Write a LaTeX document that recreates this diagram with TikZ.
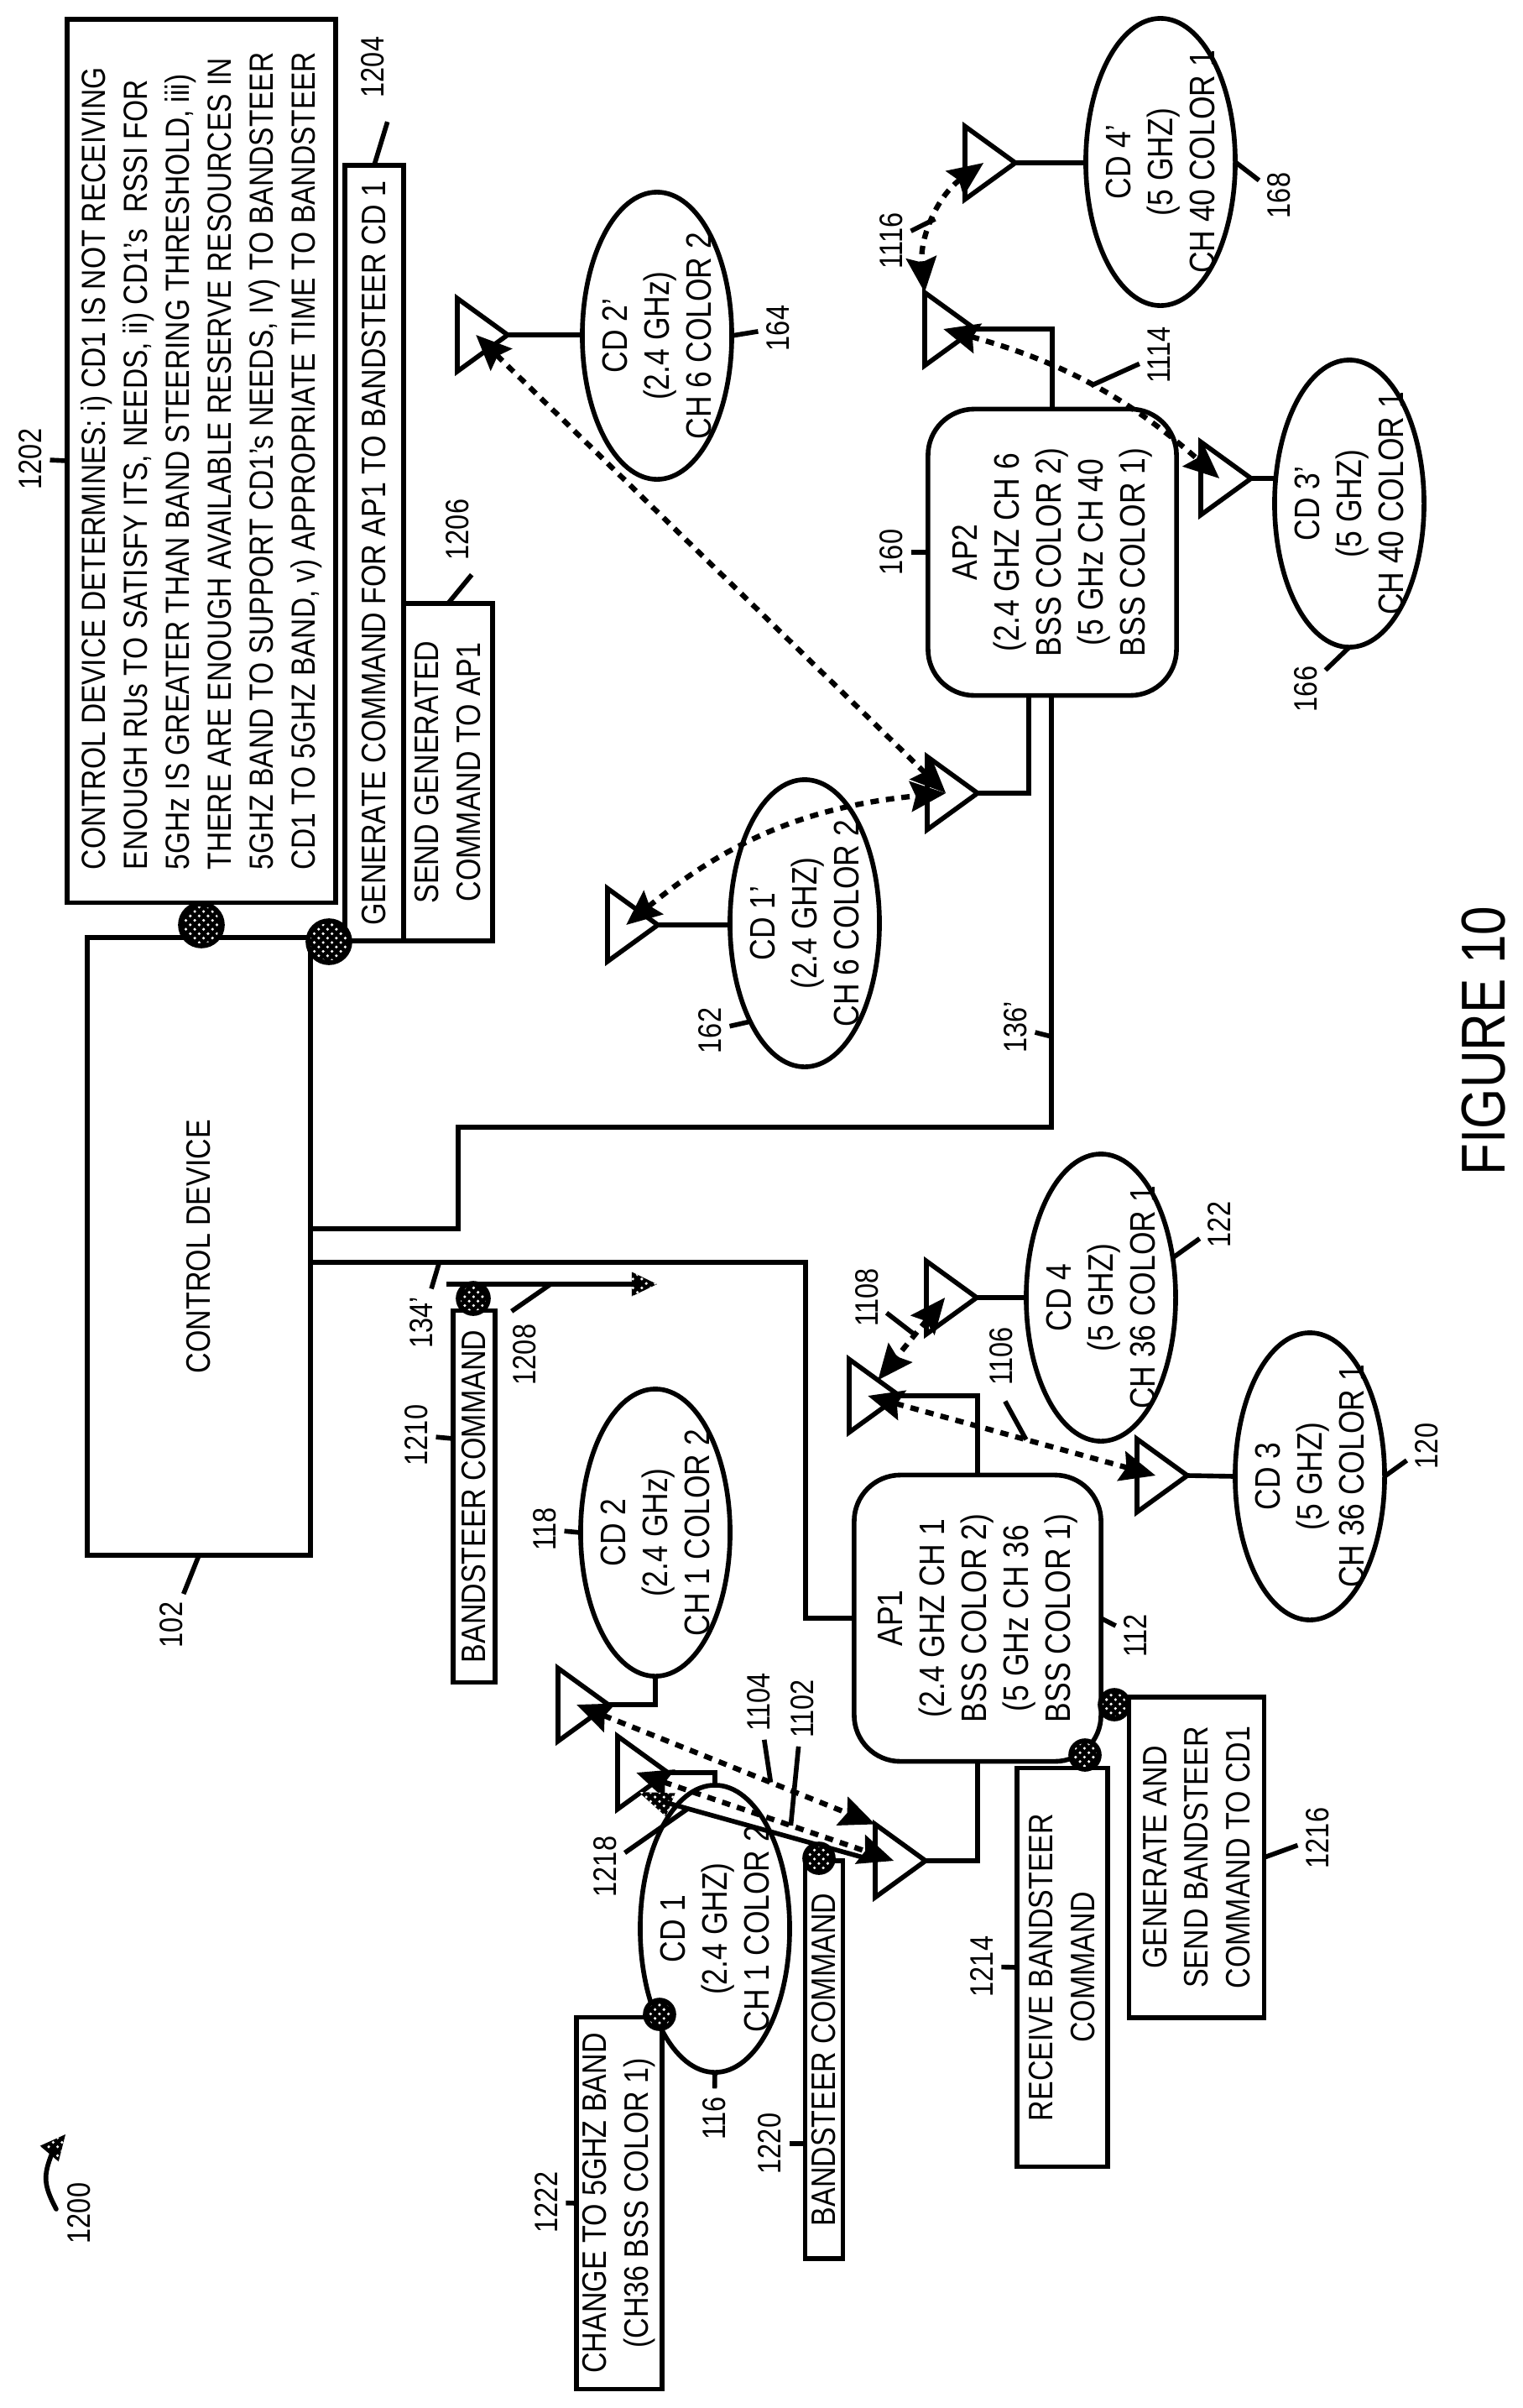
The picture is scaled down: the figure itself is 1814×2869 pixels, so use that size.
\documentclass[tikz,border=0pt]{standalone}
\usepackage{fontspec}
\setmainfont{Liberation Sans}[FakeStretch=0.84]
\usetikzlibrary{shapes.geometric,arrows.meta,patterns,calc}

\begin{document}
\begin{tikzpicture}[
    x=0.01cm, y=-0.01cm,
    line width=1.6pt,
    >={Stealth[length=0.42cm,width=0.36cm,inset=0.06cm]},
    every node/.style={font=\fontsize{11.5}{14.2}\selectfont},
    cmdbox/.style={draw, rotate=90, align=center, inner sep=0pt, outer sep=0pt},
    apbox/.style={cmdbox, rounded corners=0.55cm, font=\fontsize{12}{14.2}\selectfont},
    cdnode/.style={draw, ellipse, rotate=90, inner sep=0pt, outer sep=0pt, minimum width=3.42cm, minimum height=1.78cm},
    cdtext/.style={rotate=90, align=center, font=\fontsize{12}{14.2}\selectfont},
    antenna/.style={draw, isosceles triangle, isosceles triangle stretches, anchor=apex, inner sep=0pt, outer sep=0pt, minimum width=0.87cm, minimum height=0.6cm},
    dotmark/.style={draw, circle, inner sep=0pt, outer sep=0pt, minimum size=0.34cm, preaction={fill=black}, pattern=crosshatch dots, pattern color=white},
    bigmark/.style={dotmark, minimum size=0.5cm},
    dothead/.style={isosceles triangle, isosceles triangle stretches, anchor=apex, inner sep=0pt, outer sep=0pt, minimum width=0.29cm, minimum height=0.3cm, preaction={fill=black}, pattern=crosshatch dots, pattern color=white},
    link/.style={<->, line width=1.8pt, dash pattern=on 0.1cm off 0.085cm},
    ref/.style={rotate=90, inner sep=2pt, font=\fontsize{11}{13}\selectfont}
]
\useasboundingbox (0,0) rectangle (1814,2869);

% Control device and its steps
\node[cmdbox, minimum width=7.36cm, minimum height=2.66cm] (ctrl) at (237,1485) {CONTROL DEVICE};
\node[cmdbox, align=left, minimum width=10.52cm, minimum height=3.2cm, font=\fontsize{11.35}{14.2}\selectfont] (determine) at (240,549) {CONTROL DEVICE DETERMINES: i) CD1 IS NOT RECEIVING\\ENOUGH RUs TO SATISFY ITS, NEEDS, ii) CD1's\ \ RSSI FOR\\5GHz IS GREATER THAN BAND STEERING THRESHOLD, iii)\\THERE ARE ENOUGH AVAILABLE RESERVE RESOURCES IN\\5GHZ BAND TO SUPPORT CD1's NEEDS, IV) TO BANDSTEER\\CD1 TO 5GHZ BAND, v) APPROPRIATE TIME TO BANDSTEER};
\node[cmdbox, minimum width=9.24cm, minimum height=0.7cm] (generate) at (446,659) {GENERATE COMMAND FOR AP1 TO BANDSTEER CD 1};
\node[cmdbox, minimum width=4.02cm, minimum height=1.06cm] (send) at (534,920) {SEND GENERATED\\COMMAND TO AP1};
\node[cmdbox, minimum width=4.43cm, minimum height=0.5cm] (cmdctrl) at (565,1783) {BANDSTEER COMMAND};
\node[cmdbox, minimum width=4.74cm, minimum height=0.45cm] (cmdap) at (982,2454) {BANDSTEER COMMAND};
\node[cmdbox, minimum width=4.75cm, minimum height=1.08cm] (receive) at (1266,2344) {RECEIVE BANDSTEER\\COMMAND};
\node[cmdbox, minimum width=3.82cm, minimum height=1.61cm] (sendcd) at (1426,2213) {GENERATE AND\\SEND BANDSTEER\\COMMAND TO CD1};
\node[cmdbox, minimum width=4.43cm, minimum height=1.02cm] (change) at (738,2625) {CHANGE TO 5GHZ BAND\\(CH36 BSS COLOR 1)};

% Access points
\node[apbox, minimum width=3.41cm, minimum height=2.94cm] (apone) at (1165,1928) {AP1\\(2.4 GHZ CH 1\\BSS COLOR 2)\\(5 GHz CH 36\\BSS COLOR 1)};
\node[apbox, minimum width=3.41cm, minimum height=2.96cm] (aptwo) at (1254,658) {AP2\\(2.4 GHZ CH 6\\BSS COLOR 2)\\(5 GHz CH 40\\BSS COLOR 1)};

% Client devices
\node[cdnode, label={[cdtext]center:CD 1\\(2.4 GHZ)\\CH 1 COLOR 2}] (cdone) at (852,2298) {};
\node[cdnode, label={[cdtext]center:CD 2\\(2.4 GHz)\\CH 1 COLOR 2}] (cdtwo) at (781,1826) {};
\node[cdnode, label={[cdtext]center:CD 3\\(5 GHZ)\\CH 36 COLOR 1}] (cdthree) at (1561,1759) {};
\node[cdnode, label={[cdtext]center:CD 4\\(5 GHZ)\\CH 36 COLOR 1}] (cdfour) at (1312,1546) {};
\node[cdnode, label={[cdtext]center:CD 1'\\(2.4 GHZ)\\CH 6 COLOR 2}] (cdonep) at (959,1100) {};
\node[cdnode, label={[cdtext]center:CD 2'\\(2.4 GHz)\\CH 6 COLOR 2}] (cdtwop) at (783,400) {};
\node[cdnode, label={[cdtext]center:CD 3'\\(5 GHZ)\\CH 40 COLOR 1}] (cdthreep) at (1608,600) {};
\node[cdnode, label={[cdtext]center:CD 4'\\(5 GHZ)\\CH 40 COLOR 1}] (cdfourp) at (1383,193) {};

% Antennas
\node[antenna] (antone) at (796,2112) {};
\node[antenna] (anttwo) at (725,2031) {};
\node[antenna] (antthree) at (1415,1758) {};
\node[antenna] (antfour) at (1164,1546) {};
\node[antenna] (antapa) at (1072,1663) {};
\node[antenna] (antapb) at (1103,2217) {};
\node[antenna] (antonep) at (784,1102) {};
\node[antenna] (anttwop) at (605,399) {};
\node[antenna] (antthreep) at (1491,570) {};
\node[antenna] (antfourp) at (1210,194) {};
\node[antenna] (antapc) at (1162,392) {};
\node[antenna] (antapd) at (1165,945) {};

% Wired links
\draw (ctrl.south |- 0,1504) -- coordinate[pos=0.26] (tapone) (960,1504) -- (960,1928) -- (apone.north);
\draw (ctrl.south |- 0,1464) -- (546,1464) -- (546,1343) -- (1253,1343) -- coordinate[pos=0.21] (taptwo) (1253,0 |- aptwo.west);
\draw (apone.east) |- (antapa.apex);
\draw (apone.west) |- (antapb.apex);
\draw (aptwo.east) |- (antapc.apex);
\draw (1226,0 |- aptwo.west) |- (antapd.apex);
\draw (cdone.east) |- (antone.apex);
\draw (cdtwo.west) |- (anttwo.apex);
\draw (antthree.apex) -- (cdthree.north);
\draw (antfour.apex) -- (cdfour.north);
\draw (antonep.apex) -- (antonep.apex -| cdonep.north);
\draw (anttwop.apex) -- (anttwop.apex -| cdtwop.north);
\draw (antthreep.apex) -- (antthreep.apex -| cdthreep.north);
\draw (antfourp.apex) -- (antfourp.apex -| cdfourp.north);

% Wireless links
\draw[link] (anttwo.center) -- coordinate[pos=0.65] (waveb) (antapb.left corner);
\draw[link] (antone.center) -- coordinate[pos=0.6] (wavea) (antapb.center);
\draw[link] (antapa.center) -- coordinate[pos=0.55] (wavec) (antthree.center);
\draw[link] (antfour.center) -- coordinate[pos=0.45] (waved) (antapa.57);
\draw[link] (anttwop.center) -- (antapd.center);
\draw[link] (antonep.center) to[bend left=17] (antapd.center);
\draw[link] (antapc.center) to[bend left=13] coordinate[pos=0.5] (wavee) (antthreep.center);
\draw[link] (antfourp.center) to[bend right=30] coordinate[pos=0.5] (wavef) (antapc.left corner);

% Command arrows
\coordinate (cmdstart) at (532,1530);
\node[dothead] (cmdhead) at (783,1530) {};
\draw (cmdstart) -- coordinate[pos=0.54] (cmdmid) (cmdhead.center);
\node[dothead, rotate=158, minimum width=0.3cm, minimum height=0.41cm] (steerhead) at (761,2135) {};
\draw (steerhead.center) -- coordinate[pos=0.12] (steermid) (antapb.lower side);
\coordinate (sweepstart) at (67,2632);
\node[dothead, rotate=50] (sweephead) at (78,2543) {};
\draw[line cap=round] (sweepstart) .. controls (50,2600) and (52,2590) .. (sweephead.center);

% Sequence marks
\node[bigmark] (markdet) at (240,1102) {};
\node[bigmark] (markgen) at (392,1122) {};
\node[dotmark, minimum size=0.36cm] (markctrl) at (564,1547) {};
\node[dotmark] (markrec) at (1293,2091) {};
\node[dotmark] (marksend) at (1328,2031) {};
\node[dotmark] (markcmd) at (976,2214) {};
\node[dotmark] (markchg) at (786,2400) {};

% Reference numerals
\node[ref] (rsweep) at (94,2637) {1200};
\node[ref] (rdet) at (36,547) {1202};
\node[ref] (rgen) at (444,80) {1204};
\node[ref] (rsend) at (545,631) {1206};
\node[ref] (rcmd) at (625,1614) {1208};
\node[ref] (rcmdctrl) at (496,1710) {1210};
\node[ref] (rrec) at (1170,2343) {1214};
\node[ref] (rsendcd) at (1570,2190) {1216};
\node[ref] (rsteer) at (721,2224) {1218};
\node[ref] (rcmdap) at (917,2554) {1220};
\node[ref] (rchg) at (651,2624) {1222};
\node[ref] (rctrl) at (204,1936) {102};
\node[ref] (rapone) at (1353,1949) {112};
\node[ref] (rcdone) at (851,2524) {116};
\node[ref] (rcdtwo) at (649,1822) {118};
\node[ref] (rcdthree) at (1700,1723) {120};
\node[ref] (rcdfour) at (1453,1459) {122};
\node[ref] (rtapone) at (502,1576) {134'};
\node[ref] (rtaptwo) at (1210,1224) {136'};
\node[ref] (raptwo) at (1062,658) {160};
\node[ref] (rcdonep) at (846,1228) {162};
\node[ref] (rcdtwop) at (927,391) {164};
\node[ref] (rcdthreep) at (1556,821) {166};
\node[ref] (rcdfourp) at (1524,233) {168};
\node[ref] (rwavea) at (956,2036) {1102};
\node[ref] (rwaveb) at (904,2028) {1104};
\node[ref] (rwavec) at (1193,1616) {1106};
\node[ref] (rwaved) at (1033,1546) {1108};
\node[ref] (rwavee) at (1381,423) {1114};
\node[ref] (rwavef) at (1062,287) {1116};

% Leaders
\draw (determine.north) -- (rdet);
\draw[shorten >=0.2cm] (generate.east) -- (rgen.south west);
\draw[shorten >=0.1cm] (send.east) -- (rsend.south west);
\draw[shorten >=0.1cm] (cmdmid) -- (rcmd.north east);
\draw (cmdctrl.north |- 0,1714) -- (rcmdctrl);
\draw (receive.north) -- (rrec);
\draw (sendcd.south) -- (rsendcd);
\draw (steermid) -- (rsteer);
\draw (cmdap.north |- 0,2554) -- (rcmdap);
\draw (change.north) -- (rchg);
\draw (ctrl.west) -- (rctrl);
\draw (apone.south) -- (rapone);
\draw (cdone.west) -- (rcdone);
\draw (cdtwo.north) -- (rcdtwo);
\draw (cdthree.south) -- (rcdthree);
\draw (cdfour.-61) -- (rcdfour);
\draw (tapone) -- (rtapone);
\draw (taptwo) -- (rtaptwo);
\draw (aptwo.north) -- (raptwo);
\draw (cdonep.151) -- (rcdonep);
\draw (cdtwop.south) -- (rcdtwop);
\draw (cdthreep.west) -- (rcdthreep);
\draw (cdfourp.south) -- (rcdfourp);
\draw (wavea) -- (rwavea);
\draw (waveb) -- (rwaveb);
\draw[shorten >=0.1cm] (wavec) -- (rwavec.west);
\draw (waved) -- (rwaved);
\draw (wavee) -- (rwavee);
\draw (wavef) -- (rwavef);

\node[rotate=90, font=\fontsize{21}{25}\selectfont] (figtitle) at (1768,1240) {FIGURE 10};

\end{tikzpicture}
\end{document}
